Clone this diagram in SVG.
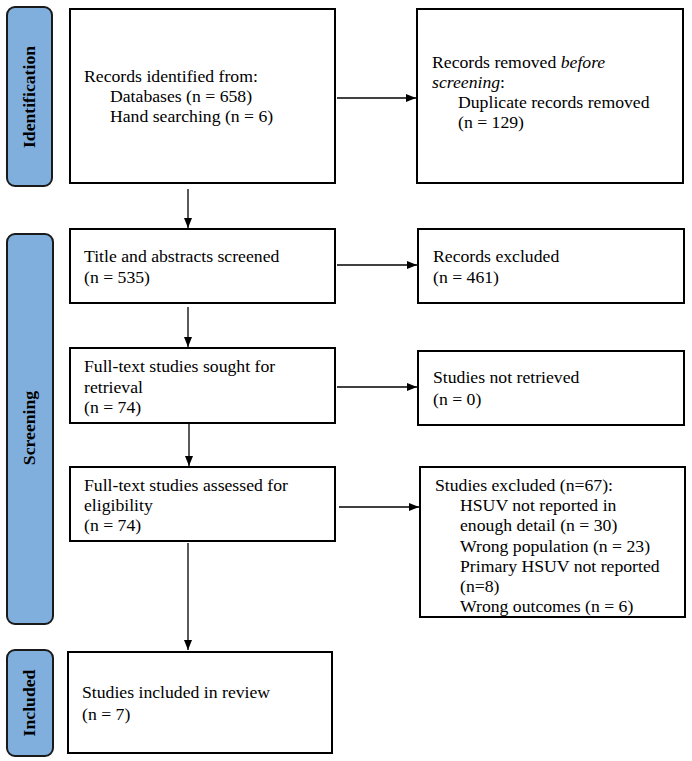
<svg xmlns="http://www.w3.org/2000/svg" width="692" height="761" viewBox="0 0 692 761">
<style>
.box{fill:#fff;stroke:#000;stroke-width:2}
.side{fill:#80afdd;stroke:#1a1a1a;stroke-width:2}
text{font-family:'Liberation Serif','Times New Roman',serif;font-size:17.7px;fill:#000}
.lbl{font-weight:bold;text-anchor:middle}
.ln{stroke:#000;stroke-width:1.3;fill:none}
</style>
<defs>
<marker id="ah" markerWidth="10" markerHeight="8" refX="10" refY="4" orient="auto" markerUnits="userSpaceOnUse">
<path d="M0,0 L10,4 L0,8 z" fill="#000"/>
</marker>
</defs>
<g id="phase-identification">
<rect class="side" x="7" y="7" width="45" height="179" rx="8"/>
<text class="lbl" transform="translate(35,97) rotate(-90)">Identification</text>
</g>
<g id="phase-screening">
<rect class="side" x="7" y="234" width="46" height="390" rx="8"/>
<text class="lbl" transform="translate(35,428) rotate(-90)">Screening</text>
</g>
<g id="phase-included">
<rect class="side" x="7" y="650" width="46" height="106" rx="8"/>
<text class="lbl" transform="translate(35,703) rotate(-90)">Included</text>
</g>
<g id="n-identified">
<rect class="box" x="70" y="9" width="265" height="174"/>
<text x="84" y="82">Records identified from:</text>
<text x="110" y="102">Databases (n = 658)</text>
<text x="110" y="122">Hand searching (n = 6)</text>
</g>
<g id="n-removed">
<rect class="box" x="417" y="9" width="266" height="174"/>
<text x="432" y="68">Records removed <tspan font-style="italic">before</tspan></text>
<text x="432" y="88"><tspan font-style="italic">screening</tspan>:</text>
<text x="458" y="108">Duplicate records removed</text>
<text x="458" y="128">(n = 129)</text>
</g>
<g id="n-screened">
<rect class="box" x="70" y="229" width="265" height="74"/>
<text x="84" y="262">Title and abstracts screened</text>
<text x="84" y="283">(n = 535)</text>
</g>
<g id="n-excluded">
<rect class="box" x="418" y="229" width="266" height="74"/>
<text x="433" y="262">Records excluded</text>
<text x="433" y="283">(n = 461)</text>
</g>
<g id="n-sought">
<rect class="box" x="70" y="348" width="265" height="75"/>
<text x="84" y="372">Full-text studies sought for</text>
<text x="84" y="393">retrieval</text>
<text x="84" y="413">(n = 74)</text>
</g>
<g id="n-notretrieved">
<rect class="box" x="418" y="351" width="266" height="74"/>
<text x="433" y="383">Studies not retrieved</text>
<text x="433" y="405">(n = 0)</text>
</g>
<g id="n-assessed">
<rect class="box" x="70" y="467" width="265" height="74"/>
<text x="84" y="491">Full-text studies assessed for</text>
<text x="84" y="511">eligibility</text>
<text x="84" y="531">(n = 74)</text>
</g>
<g id="n-studiesexcluded">
<rect class="box" x="420" y="467" width="265" height="150"/>
<text x="435" y="491">Studies excluded (n=67):</text>
<text x="460" y="511">HSUV not reported in</text>
<text x="460" y="531">enough detail (n = 30)</text>
<text x="460" y="552">Wrong population (n = 23)</text>
<text x="460" y="572">Primary HSUV not reported</text>
<text x="460" y="592">(n=8)</text>
<text x="460" y="612">Wrong outcomes (n = 6)</text>
</g>
<g id="n-included">
<rect class="box" x="68" y="652" width="264" height="101"/>
<text x="82" y="698">Studies included in review</text>
<text x="82" y="720">(n = 7)</text>
</g>
<g id="connectors">
<line class="ln" x1="337" y1="98" x2="416" y2="98" marker-end="url(#ah)"/>
<line class="ln" x1="188" y1="189" x2="188" y2="228" marker-end="url(#ah)"/>
<line class="ln" x1="337" y1="265" x2="417" y2="265" marker-end="url(#ah)"/>
<line class="ln" x1="188" y1="307" x2="188" y2="347" marker-end="url(#ah)"/>
<line class="ln" x1="337" y1="387" x2="417" y2="387" marker-end="url(#ah)"/>
<line class="ln" x1="189" y1="424" x2="189" y2="466" marker-end="url(#ah)"/>
<line class="ln" x1="339" y1="507" x2="419" y2="507" marker-end="url(#ah)"/>
<line class="ln" x1="188" y1="543" x2="188" y2="650" marker-end="url(#ah)"/>
</g>
</svg>
